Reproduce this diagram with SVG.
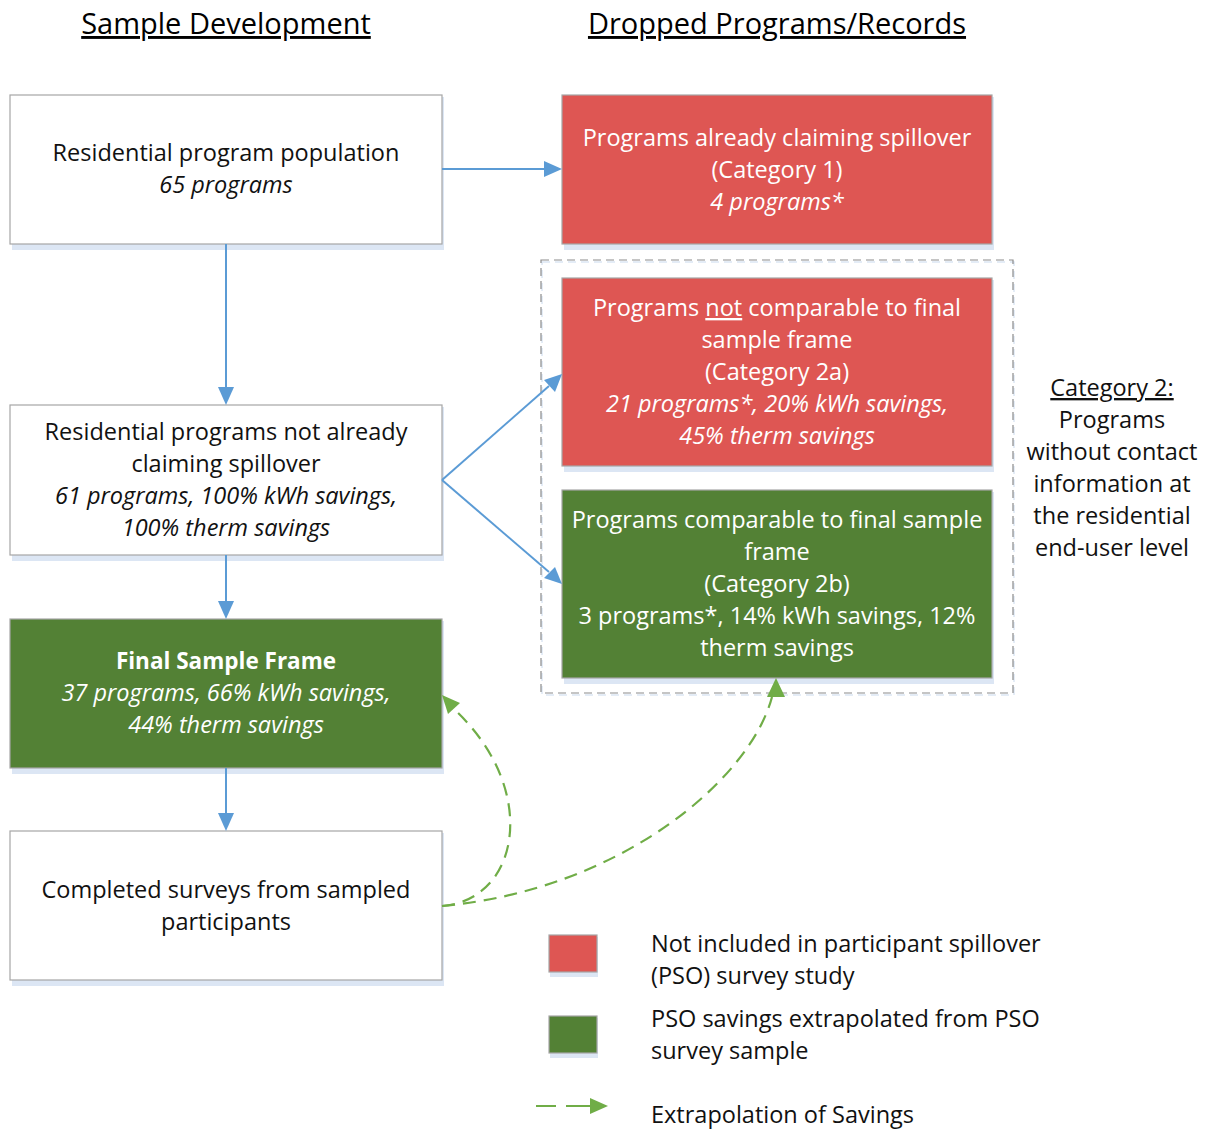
<svg xmlns="http://www.w3.org/2000/svg" width="1212" height="1129" viewBox="0 0 1212 1129">
<style>
text{font-family:"Open Sans","Liberation Sans",sans-serif;font-size:23.5px;text-anchor:middle}
.dk{fill:#111}
.wt{fill:#fff}
.it{font-style:italic}
.b{font-weight:bold;font-size:22.5px}
.box{stroke:#a6a6a6;stroke-width:1.2}
.shadow{fill:#dce6f4}
.white{fill:#fff}
.red{fill:#de5653}
.green{fill:#538135}
.title{font-size:29px;text-decoration:underline;fill:#000}
.lg{text-anchor:start;fill:#111}
.conn{stroke:#5b9bd5;stroke-width:2;fill:none}
.ext{stroke:#70ad47;stroke-width:2.2;fill:none;stroke-dasharray:13 8}
</style>

<text class="title" x="226" y="34">Sample Development</text>
<text class="title" x="777" y="34">Dropped Programs/Records</text>

<g id="category2-group">
<rect x="541" y="260" width="472" height="433" fill="none" stroke="#dce6f4" stroke-width="1.5" stroke-dasharray="8 5" transform="translate(1,2)"/>
<rect x="541" y="260" width="472" height="433" fill="none" stroke="#8c8c8c" stroke-width="1.2" stroke-dasharray="8 5"/>
</g>

<g id="node-population">
<rect class="shadow" x="12" y="97" width="432" height="153"/>
<rect class="box white" x="10" y="95" width="432" height="149"/>
<text class="dk" x="226" y="161">Residential program population</text>
<text class="dk it" x="226" y="193">65 programs</text>
</g>

<g id="node-cat1">
<rect class="shadow" x="564" y="97" width="430" height="153"/>
<rect class="box red" x="562" y="95" width="430" height="149"/>
<text class="wt" x="777" y="146">Programs already claiming spillover</text>
<text class="wt" x="777" y="178">(Category 1)</text>
<text class="wt it" x="777" y="210">4 programs*</text>
</g>

<g id="node-cat2a">
<rect class="shadow" x="564" y="280" width="430" height="192"/>
<rect class="box red" x="562" y="278" width="430" height="188"/>
<text class="wt" x="777" y="316">Programs <tspan text-decoration="underline">not</tspan> comparable to final</text>
<text class="wt" x="777" y="348">sample frame</text>
<text class="wt" x="777" y="380">(Category 2a)</text>
<text class="wt it" x="777" y="412">21 programs*, 20% kWh savings,</text>
<text class="wt it" x="777" y="444">45% therm savings</text>
</g>

<g id="node-cat2b">
<rect class="shadow" x="564" y="492" width="430" height="192"/>
<rect class="box green" x="562" y="490" width="430" height="188"/>
<text class="wt" x="777" y="528">Programs comparable to final sample</text>
<text class="wt" x="777" y="560">frame</text>
<text class="wt" x="777" y="592">(Category 2b)</text>
<text class="wt" x="777" y="624">3 programs*, 14% kWh savings, 12%</text>
<text class="wt" x="777" y="656">therm savings</text>
</g>

<g id="node-notclaiming">
<rect class="shadow" x="12" y="407" width="432" height="154"/>
<rect class="box white" x="10" y="405" width="432" height="150"/>
<text class="dk" x="226" y="440">Residential programs not already</text>
<text class="dk" x="226" y="472">claiming spillover</text>
<text class="dk it" x="226" y="504">61 programs, 100% kWh savings,</text>
<text class="dk it" x="226" y="536">100% therm savings</text>
</g>

<g id="node-final">
<rect class="shadow" x="12" y="621" width="432" height="153"/>
<rect class="box green" x="10" y="619" width="432" height="149"/>
<text class="wt b" x="226" y="669">Final Sample Frame</text>
<text class="wt it" x="226" y="701">37 programs, 66% kWh savings,</text>
<text class="wt it" x="226" y="733">44% therm savings</text>
</g>

<g id="node-surveys">
<rect class="shadow" x="12" y="833" width="432" height="153"/>
<rect class="box white" x="10" y="831" width="432" height="149"/>
<text class="dk" x="226" y="898">Completed surveys from sampled</text>
<text class="dk" x="226" y="930">participants</text>
</g>

<g id="label-category2">
<text class="dk" x="1112" y="396" text-decoration="underline">Category 2:</text>
<text class="dk" x="1112" y="428">Programs</text>
<text class="dk" x="1112" y="460">without contact</text>
<text class="dk" x="1112" y="492">information at</text>
<text class="dk" x="1112" y="524">the residential</text>
<text class="dk" x="1112" y="556">end-user level</text>
</g>

<g id="connectors">
<path class="conn" d="M226,244 V387" />
<path d="M218,387 L234,387 L226,405 z" fill="#5b9bd5"/>
<path class="conn" d="M442,169 H544" />
<path d="M544,161 L562,169 L544,177 z" fill="#5b9bd5"/>
<path class="conn" d="M442,480 L549,386" />
<path d="M544,380 L562,374 L555,392 z" fill="#5b9bd5"/>
<path class="conn" d="M442,480 L549,572" />
<path d="M544,578 L562,584 L555,567 z" fill="#5b9bd5"/>
<path class="conn" d="M226,555 V601" />
<path d="M218,601 L234,601 L226,619 z" fill="#5b9bd5"/>
<path class="conn" d="M226,768 V813" />
<path d="M218,813 L234,813 L226,831 z" fill="#5b9bd5"/>
<path class="ext" d="M442,906 C520,900 540,790 455,710" />
<path d="M442,695 L460,703 L448,714 z" fill="#70ad47"/>
<path class="ext" d="M442,906 C620,890 750,780 772,697" />
<path d="M776,678 L785,697 L767,697 z" fill="#70ad47"/>
</g>

<g id="legend">
<rect class="shadow" x="550" y="937" width="48" height="40"/>
<rect class="box red" x="549" y="935" width="48" height="37"/>
<text class="lg" x="651" y="952">Not included in participant spillover</text>
<text class="lg" x="651" y="984">(PSO) survey study</text>
<rect class="shadow" x="550" y="1018" width="48" height="40"/>
<rect class="box green" x="549" y="1016" width="48" height="37"/>
<text class="lg" x="651" y="1027">PSO savings extrapolated from PSO</text>
<text class="lg" x="651" y="1059">survey sample</text>
<path d="M536,1106 H556 M566,1106 H590" stroke="#70ad47" stroke-width="2.2" fill="none"/>
<path d="M590,1098 L608,1106 L590,1114 z" fill="#70ad47"/>
<text class="lg" x="651" y="1123">Extrapolation of Savings</text>
</g>
</svg>
